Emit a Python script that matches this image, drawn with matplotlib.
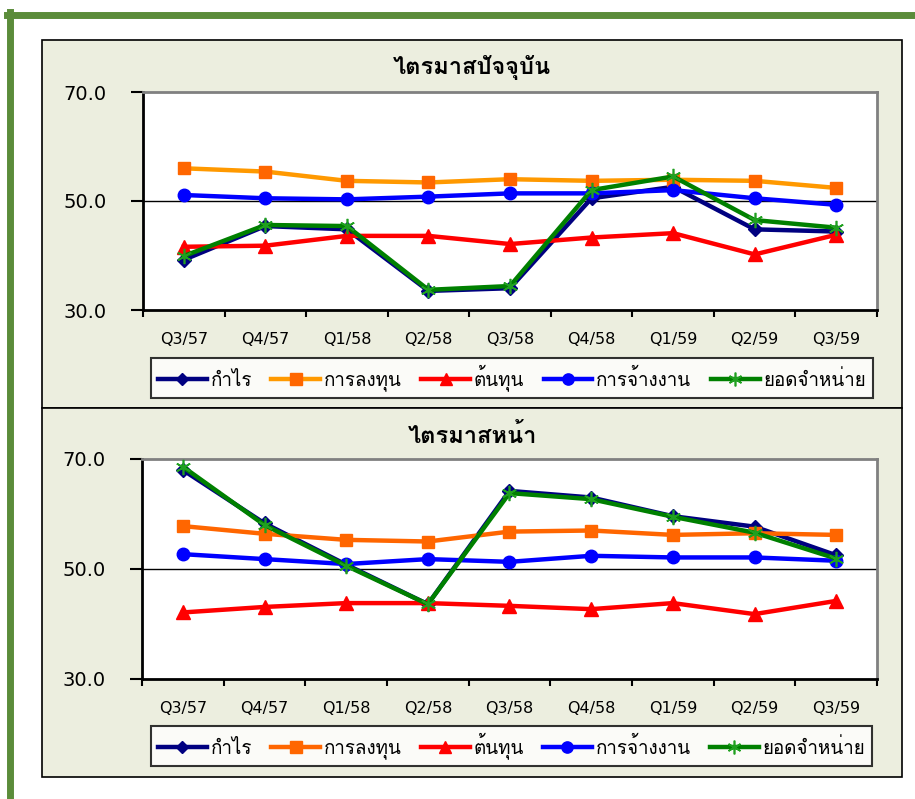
import matplotlib
matplotlib.use("Agg")
import matplotlib.pyplot as plt
from matplotlib import font_manager as fm
from matplotlib.ft2font import FT2Font
from matplotlib.patches import Rectangle
from matplotlib.lines import Line2D

# ---------------- data ----------------
quarters = ["Q3/57", "Q4/57", "Q1/58", "Q2/58", "Q3/58", "Q4/58", "Q1/59", "Q2/59", "Q3/59"]
series_names = ["กำไร", "การลงทุน", "ต้นทุน", "การจ้างงาน", "ยอดจำหน่าย"]
title_current = "ไตรมาสปัจจุบัน"
title_next = "ไตรมาสหน้า"

cur_profit = [39.2, 45.4, 44.8, 33.5, 34.0, 50.5, 52.6, 44.8, 44.4]
cur_invest = [56.0, 55.4, 53.7, 53.4, 54.0, 53.7, 53.9, 53.7, 52.4]
cur_cost = [41.6, 41.8, 43.6, 43.6, 42.1, 43.3, 44.1, 40.2, 43.8]
cur_employ = [51.1, 50.5, 50.3, 50.8, 51.4, 51.4, 52.0, 50.5, 49.3]
cur_sales = [39.9, 45.6, 45.4, 33.7, 34.4, 52.0, 54.5, 46.5, 45.1]

nxt_profit = [68.0, 58.3, 50.8, 43.6, 64.2, 63.0, 59.6, 57.7, 52.5]
nxt_invest = [57.8, 56.4, 55.3, 55.0, 56.8, 57.0, 56.2, 56.5, 56.2]
nxt_cost = [42.1, 43.1, 43.8, 43.8, 43.3, 42.7, 43.8, 41.8, 44.2]
nxt_employ = [52.7, 51.8, 50.9, 51.8, 51.3, 52.4, 52.1, 52.1, 51.5]
nxt_sales = [68.6, 58.0, 50.6, 43.6, 63.8, 62.7, 59.5, 56.6, 51.9]

y_ticks = [30.0, 50.0, 70.0]

# ---------------- fonts ----------------
thai_font = None
for f in fm.fontManager.ttflist:
    try:
        if 0x0E01 in FT2Font(f.fname).get_charmap():
            thai_font = f.name
            break
    except Exception:
        pass
families = ([thai_font] if thai_font else []) + ["DejaVu Sans"]
plt.rcParams["font.family"] = families

W, H = 915, 799
fig = plt.figure(figsize=(W / 100, H / 100), dpi=100)
fig.patch.set_facecolor("white")

def fx(x):
    return x / W

def fy(y):
    return 1 - y / H

# green outer frame
fig.add_artist(Line2D([fx(7), fx(915)], [fy(15), fy(15)], color="#5B8C3A", lw=5, transform=fig.transFigure))
fig.add_artist(Line2D([fx(10), fx(10)], [fy(12), fy(799)], color="#5B8C3A", lw=5, transform=fig.transFigure))

panel_bg = "#ECEEDF"
for (top, bot) in [(40, 408), (408, 777)]:
    fig.add_artist(Rectangle((fx(42), fy(bot)), fx(902) - fx(42), fy(top) - fy(bot),
                             transform=fig.transFigure, facecolor=panel_bg,
                             edgecolor="black", lw=1.2, zorder=0))

styles = [
    dict(color="#000080", marker="D", mfc="#000080", mec="#000080", ms=7),
    dict(color="#FF9900", marker="s", mfc="#FF6600", mec="#FF6600", ms=9),
    dict(color="#FF0000", marker="^", mfc="#FF0000", mec="#FF0000", ms=10),
    dict(color="#0000FF", marker="o", mfc="#0000FF", mec="#0000FF", ms=9),
    dict(color="#008000", marker=(6, 2, 0), mfc="#20A020", mec="#20A020", ms=11, mew=1.2),
]

def draw_panel(ax_rect, title, title_y, data, legend_box, invest_color):
    l, t, r, b = ax_rect
    ax = fig.add_axes([fx(l), fy(b), fx(r) - fx(l), fy(t) - fy(b)])
    ax.set_facecolor("white")
    x = list(range(len(quarters)))
    handles = []
    for i, (vals, st) in enumerate(zip(data, styles)):
        st = dict(st)
        if i == 1:
            st["color"] = invest_color
        h, = ax.plot(x, vals, lw=3.2, label=series_names[i], zorder=3 + (1 if i == 4 else 0), **st)
        handles.append(h)
    ax.set_xlim(-0.5, len(quarters) - 0.5)
    ax.set_ylim(30, 70)
    ax.set_yticks(y_ticks)
    ax.set_yticklabels([f"{v:.1f}" for v in y_ticks], fontsize=14, family="DejaVu Sans")
    ax.axhline(50, color="black", lw=1, zorder=1)
    ax.set_xticks(x)
    ax.set_xticklabels(quarters, fontsize=11.5, family="DejaVu Sans")
    ax.set_xticks([i - 0.5 for i in range(len(quarters) + 1)], minor=True)
    ax.tick_params(axis="x", which="major", length=0, pad=16)
    ax.tick_params(axis="x", which="minor", length=5, width=1.5, direction="out", color="black")
    ax.tick_params(axis="y", which="major", length=9, width=1.5, direction="out", pad=17)
    for side in ["left", "bottom"]:
        ax.spines[side].set_color("black")
        ax.spines[side].set_linewidth(2)
    for side in ["top", "right"]:
        ax.spines[side].set_color("#808080")
        ax.spines[side].set_linewidth(2)
    fig.text(fx(472), fy(title_y), title, fontsize=17, fontweight="bold", ha="center", va="center")
    ll, lt, lr, lb = legend_box
    leg = fig.legend(handles=handles, loc="center",
                     bbox_to_anchor=(fx(ll), fy(lb), fx(lr) - fx(ll), fy(lt) - fy(lb)),
                     bbox_transform=fig.transFigure, mode="expand", ncol=5,
                     fontsize=13.5, frameon=True, fancybox=False, handlelength=2.6,
                     handletextpad=0.2, columnspacing=1.0, borderpad=0.35, numpoints=1,
                     markerscale=0.9)
    leg.get_frame().set_edgecolor("black")
    leg.get_frame().set_linewidth(1.5)
    leg.get_frame().set_facecolor("white")
    return ax

draw_panel((143, 92, 877, 310), title_current, 68,
           [cur_profit, cur_invest, cur_cost, cur_employ, cur_sales],
           (142, 357, 882, 399), "#FF9900")
draw_panel((142, 459, 877, 679), title_next, 436,
           [nxt_profit, nxt_invest, nxt_cost, nxt_employ, nxt_sales],
           (142, 724, 881, 768), "#FF6600")

fig.savefig("out.png", dpi=100)
